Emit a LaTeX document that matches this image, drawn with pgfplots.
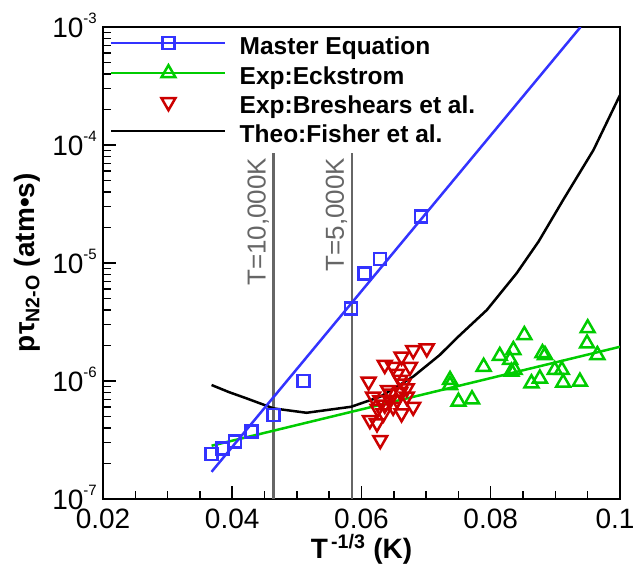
\documentclass[border=0pt]{standalone}
\usepackage{fontspec}
\setmainfont{Liberation Sans}
\usepackage{pgfplots}
\pgfplotsset{compat=1.18}
\definecolor{cblue}{RGB}{51,51,255}
\definecolor{cgreen}{RGB}{0,204,0}
\definecolor{cred}{RGB}{204,0,0}
\definecolor{cgray}{RGB}{102,102,102}
\newcommand{\tl}[1]{10\raisebox{14pt}{\fontsize{15}{15}\selectfont #1}}
\begin{document}
\begin{tikzpicture}
\begin{axis}[
  scale only axis, width=517pt, height=472pt,
  ymode=log, xmin=0.02, xmax=0.1, ymin=1e-7, ymax=1e-3,
  axis line style={line width=2.5pt},
  tick style={line width=1.5pt, black},
  tick align=inside,
  xtick pos=bottom, ytick pos=left,
  major tick length=13pt, minor tick length=8pt,
  xtick={0.02,0.04,0.06,0.08,0.1},
  xticklabels={0.02,0.04,0.06,0.08,\hspace*{-10pt}0.1},
  minor x tick num=3,
  ytick={1e-7,1e-6,1e-5,1e-4,1e-3},
  yticklabels={\tl{-7},\tl{-6},\tl{-5},\tl{-4},\tl{-3}},
  minor ytick={2e-7,3e-7,4e-7,5e-7,6e-7,7e-7,8e-7,9e-7,
               2e-6,3e-6,4e-6,5e-6,6e-6,7e-6,8e-6,9e-6,
               2e-5,3e-5,4e-5,5e-5,6e-5,7e-5,8e-5,9e-5,
               2e-4,3e-4,4e-4,5e-4,6e-4,7e-4,8e-4,9e-4},
  ticklabel style={font=\fontsize{28}{28}\selectfont, inner sep=0pt},
  xticklabel style={anchor=base, yshift=-29pt},
  yticklabel style={anchor=base east, xshift=-6pt, yshift=-10pt},
  xlabel={\bfseries T\textsuperscript{\,-1/3} (K)},
  ylabel={\bfseries p\kern1pt τ\textsubscript{N2-O} (atm•s)},
  label style={font=\fontsize{28}{28}\selectfont},
  xlabel style={at={(axis description cs:0.5,0)}, anchor=base, yshift=-59pt},
  ylabel style={at={(axis description cs:-0.147,0.5)}, anchor=center},
  clip=true,
  legend style={draw=none, fill=none, at={(0,1)}, anchor=north west,
    xshift=7pt, yshift=-9pt, inner sep=0pt,
    font=\bfseries\fontsize{24.5}{24.5}\selectfont,
    nodes={text height=17pt, text depth=5pt, inner sep=1pt},
    row sep=5pt,
    /tikz/every even column/.append style={column sep=0pt}},
  legend cell align=left,
  legend image code/.code={\draw[mark repeat=2,mark phase=2,#1] plot coordinates {(0pt,5pt) (57pt,5pt) (114pt,5pt)};},
]
% legend entries
\addlegendimage{cblue, line width=2.5pt, mark=square, mark size=6pt, mark options={solid, line width=2.5pt}}
\addlegendentry{\hspace{12pt}Master Equation}
\addlegendimage{cgreen, line width=2.5pt, mark=triangle, mark size=8pt, mark options={solid, line width=2.5pt}}
\addlegendentry{\hspace{12pt}Exp:Eckstrom}
\addlegendimage{only marks, cred, mark=triangle, mark size=8pt, mark options={solid, line width=2.5pt, rotate=180}}
\addlegendentry{\hspace{12pt}Exp:Breshears et al.}
\addlegendimage{black, line width=2.5pt}
\addlegendentry{\hspace{12pt}Theo:Fisher et al.}

% reference temperature lines
\addplot[cgray, line width=2.5pt, forget plot] coordinates {(0.0464,8.5e-5) (0.0464,1e-7)};
\addplot[cgray, line width=2.5pt, forget plot] coordinates {(0.0585,8.5e-5) (0.0585,1e-7)};

% Breshears et al.
\addplot[only marks, cred, mark=triangle, mark size=8pt, mark options={solid, line width=2.5pt, rotate=180}, forget plot] coordinates {
(0.0701,1.89e-6) (0.0680,1.83e-6) (0.0662,1.61e-6) (0.0636,1.37e-6)
(0.0649,1.32e-6) (0.0675,1.32e-6) (0.0611,9.87e-7) (0.0660,1.02e-6)
(0.0670,8.67e-7) (0.0680,6.05e-7) (0.0662,5.32e-7) (0.0618,7.36e-7)
(0.0629,6.90e-7) (0.0644,6.90e-7) (0.0655,6.90e-7) (0.0613,4.67e-7)
(0.0624,4.38e-7) (0.0634,5.32e-7) (0.0629,3.16e-7) (0.0649,6.05e-7)
(0.0670,7.36e-7) (0.0641,8.39e-7) (0.0660,8.1e-7) (0.0636,6.3e-7)
(0.0655,1.15e-6) (0.0665,9.5e-7) (0.0625,5.8e-7) (0.0645,7.8e-7)
};

% Eckstrom
\addplot[only marks, cgreen, mark=triangle, mark size=8pt, mark options={solid, line width=2.5pt}, forget plot] coordinates {
(0.0852,2.45e-6) (0.0950,2.80e-6) (0.0949,2.08e-6) (0.0965,1.66e-6)
(0.0835,1.83e-6) (0.0814,1.63e-6) (0.0830,1.51e-6) (0.0837,1.24e-6)
(0.0832,1.20e-6) (0.0789,1.32e-6) (0.0880,1.72e-6) (0.0884,1.66e-6)
(0.0899,1.24e-6) (0.0910,1.24e-6) (0.0876,1.05e-6) (0.0863,9.57e-7)
(0.0912,9.68e-7) (0.0938,9.87e-7) (0.0737,1.02e-6) (0.0737,9.25e-7)
(0.0750,6.68e-7) (0.0771,7.00e-7)
};
\addplot[cgreen, line width=2.5pt, forget plot] coordinates {(0.0368,2.83e-7) (0.1,1.95e-6)};

% Fisher et al.
\addplot[black, line width=2.5pt, forget plot] coordinates {
(0.0368,9.25e-7) (0.0395,8.05e-7) (0.0422,7.13e-7) (0.0464,5.86e-7)
(0.0515,5.38e-7) (0.0584,6.05e-7) (0.0629,7.36e-7) (0.0680,1.09e-6)
(0.0721,1.66e-6) (0.0747,2.30e-6) (0.0794,4.0e-6) (0.0840,8.18e-6)
(0.0874,1.52e-5) (0.0912,3.42e-5) (0.0959,9.08e-5) (0.1,2.65e-4)
};

% Master equation
\addplot[cblue, line width=2.5pt, forget plot] coordinates {(0.0368,1.7e-7) (0.0939,1e-3)};
\addplot[only marks, cblue, mark=square, mark size=6pt, mark options={solid, line width=2.5pt}, forget plot] coordinates {
(0.0368,2.4e-7) (0.0385,2.69e-7) (0.0404,3.06e-7) (0.0430,3.72e-7)
(0.0464,5.15e-7) (0.0510,1.0e-6) (0.0584,4.13e-6) (0.0605,8.18e-6)
(0.0629,1.08e-5) (0.0692,2.47e-5)
};

\node[cgray, rotate=90, anchor=base east, inner sep=0pt, font=\fontsize{26}{26}\selectfont]
  at ([xshift=-8pt]axis cs:0.0464,7.8e-5) {T=10,000K};
\node[cgray, rotate=90, anchor=base east, inner sep=0pt, font=\fontsize{26}{26}\selectfont]
  at ([xshift=-8pt]axis cs:0.0585,7.8e-5) {T=5,000K};
\end{axis}
\pgfresetboundingbox
\path (-103pt,-66pt) rectangle (534pt,499pt);
\end{tikzpicture}
\end{document}
